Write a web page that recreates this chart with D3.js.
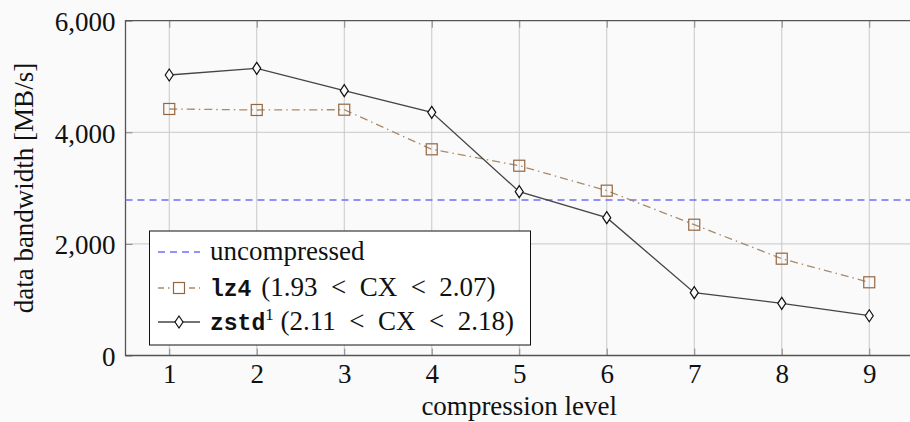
<!DOCTYPE html>
<html>
<head>
<meta charset="utf-8">
<script src="https://d3js.org/d3.v7.min.js"></script>
<style>
  body { margin: 0; background: #fafafa; }
  svg { display: block; }
  .tick text { font-family: "Liberation Serif", serif; font-size: 27px; fill: #111; }
</style>
</head>
<body>
<script>
// data
var levels = [1, 2, 3, 4, 5, 6, 7, 8, 9];
var lz4 = [4418, 4400, 4405, 3695, 3401, 2954, 2344, 1735, 1312];
var zstd = [5027, 5147, 4746, 4358, 2936, 2470, 1126, 935, 713];
var uncompressed = 2787;
var yTicks = [0, 2000, 4000, 6000];

var width = 910, height = 422;
var plotLeft = 125.5, plotTop = 20.7, plotBottom = 355.5;
var serif = 'Liberation Serif, serif', mono = 'Liberation Mono, monospace';

var svg = d3.select('body').append('svg')
  .attr('width', width).attr('height', height);

var x = d3.scaleLinear().domain([0.5, 9.5]).range([plotLeft, 913]);
var y = d3.scaleLinear().domain([0, 6000]).range([plotBottom, plotTop]);

// grid
svg.append('g').selectAll('line').data(levels).enter().append('line')
  .attr('x1', d => x(d)).attr('x2', d => x(d))
  .attr('y1', plotTop).attr('y2', plotBottom)
  .attr('stroke', '#c8c8c8').attr('stroke-width', 1);
svg.append('g').selectAll('line').data([2000, 4000]).enter().append('line')
  .attr('x1', plotLeft).attr('x2', width)
  .attr('y1', d => y(d)).attr('y2', d => y(d))
  .attr('stroke', '#c8c8c8').attr('stroke-width', 1);

// axes
var fmt = d3.format(',');
var yAxis = svg.append('g')
  .attr('transform', 'translate(' + plotLeft + ',0)')
  .call(d3.axisLeft(y).tickValues(yTicks).tickFormat(fmt).tickSize(-7).tickPadding(10));
var xAxis = svg.append('g')
  .attr('transform', 'translate(0,' + plotBottom + ')')
  .call(d3.axisBottom(x).tickValues(levels).tickSize(-7).tickPadding(8));
var xTop = svg.append('g')
  .attr('transform', 'translate(0,' + plotTop + ')')
  .call(d3.axisTop(x).tickValues(levels).tickSize(-7).tickFormat(''));
[yAxis, xAxis, xTop].forEach(function(g) {
  g.select('.domain').remove();
  g.selectAll('.tick line').attr('stroke', '#888');
});
yAxis.selectAll('.tick text').attr('dy', '0.36em');

// frame
svg.append('path')
  .attr('d', 'M' + width + ',' + plotTop + 'H' + plotLeft + 'V' + plotBottom + 'H' + width)
  .attr('fill', 'none').attr('stroke', '#555').attr('stroke-width', 1.3);

// uncompressed line
svg.append('line')
  .attr('x1', plotLeft).attr('x2', width)
  .attr('y1', y(uncompressed)).attr('y2', y(uncompressed))
  .attr('stroke', '#6f6fff').attr('stroke-width', 1.6)
  .attr('stroke-dasharray', '7,5');

var line = d3.line().x((d, i) => x(levels[i])).y(d => y(d));

// lz4
svg.append('path').datum(lz4).attr('d', line)
  .attr('fill', 'none').attr('stroke', '#a88a6c').attr('stroke-width', 1.3)
  .attr('stroke-dasharray', '8,4,1.5,4');
svg.append('g').selectAll('rect').data(lz4).enter().append('rect')
  .attr('x', (d, i) => x(levels[i]) - 5.5).attr('y', d => y(d) - 5.5)
  .attr('width', 11).attr('height', 11)
  .attr('fill', 'none').attr('stroke', '#946640').attr('stroke-width', 1.2);

// zstd
svg.append('path').datum(zstd).attr('d', line)
  .attr('fill', 'none').attr('stroke', '#444').attr('stroke-width', 1.3);
var diamond = 'M0,-6L4,0L0,6L-4,0Z';
svg.append('g').selectAll('path').data(zstd).enter().append('path')
  .attr('d', diamond)
  .attr('transform', (d, i) => 'translate(' + x(levels[i]) + ',' + y(d) + ')')
  .attr('fill', '#fafafa').attr('stroke', '#111').attr('stroke-width', 1.2);

// axis labels
svg.append('text')
  .attr('x', x(5)).attr('y', 415)
  .attr('text-anchor', 'middle')
  .attr('font-family', serif).attr('font-size', 27)
  .attr('fill', '#111')
  .text('compression level');
svg.append('text')
  .attr('transform', 'translate(33,' + ((plotTop + plotBottom) / 2) + ') rotate(-90)')
  .attr('text-anchor', 'middle')
  .attr('font-family', serif).attr('font-size', 27)
  .attr('fill', '#111')
  .text('data bandwidth [MB/s]');

// legend
var lg = svg.append('g');
lg.append('rect')
  .attr('x', 149.5).attr('y', 231).attr('width', 381).attr('height', 114)
  .attr('fill', '#fff').attr('stroke', '#111').attr('stroke-width', 1);
var rows = [252, 288, 322];
lg.append('line').attr('x1', 158).attr('x2', 200).attr('y1', rows[0]).attr('y2', rows[0])
  .attr('stroke', '#6f6fff').attr('stroke-width', 1.6).attr('stroke-dasharray', '7,5');
lg.append('line').attr('x1', 158).attr('x2', 200).attr('y1', rows[1]).attr('y2', rows[1])
  .attr('stroke', '#a88a6c').attr('stroke-width', 1.3).attr('stroke-dasharray', '6,4,1.5,4');
lg.append('rect').attr('x', 173.5).attr('y', rows[1] - 5.5).attr('width', 11).attr('height', 11)
  .attr('fill', '#fff').attr('stroke', '#946640').attr('stroke-width', 1.2);
lg.append('line').attr('x1', 158).attr('x2', 200).attr('y1', rows[2]).attr('y2', rows[2])
  .attr('stroke', '#444').attr('stroke-width', 1.3);
lg.append('path').attr('d', diamond).attr('transform', 'translate(179,' + rows[2] + ')')
  .attr('fill', '#fff').attr('stroke', '#111').attr('stroke-width', 1.2);

function legText(yy, parts) {
  var t = lg.append('text').attr('x', 210).attr('y', yy + 8)
    .attr('font-family', serif).attr('font-size', 27).attr('fill', '#111');
  parts.forEach(function(p) {
    var s = t.append('tspan').text(p.t);
    if (p.mono) s.attr('font-family', mono).attr('font-weight', 'bold').attr('font-size', 23);
    if (p.sup) s.attr('font-size', 17).attr('dy', -10);
    if (p.dy) s.attr('dy', p.dy);
    if (p.dx) s.attr('dx', p.dx);
  });
}
var sp = '\u2002';
legText(rows[0], [{t: 'uncompressed'}]);
legText(rows[1], [{t: 'lz4', mono: true}, {t: ' (1.93' + sp + '<' + sp + 'CX' + sp + '<' + sp + '2.07)', dx: 3}]);
legText(rows[2], [{t: 'zstd', mono: true}, {t: '1', sup: true},
  {t: ' (2.11' + sp + '<' + sp + 'CX' + sp + '<' + sp + '2.18)', dy: 10}]);
</script>
</body>
</html>
